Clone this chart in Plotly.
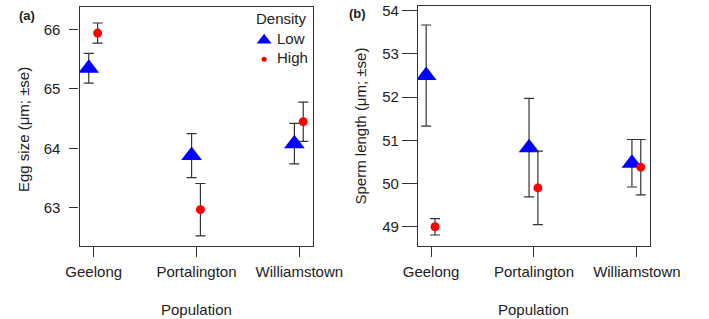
import plotly.graph_objects as go

populations = ["Geelong", "Portalington", "Williamstown"]

egg_low = [65.35, 63.88, 64.08]
egg_low_se = [0.25, 0.37, 0.34]
egg_high = [65.94, 62.97, 64.45]
egg_high_se = [0.17, 0.44, 0.33]

sperm_low = [52.50, 50.83, 50.47]
sperm_low_se = [1.17, 1.14, 0.55]
sperm_high = [49.00, 49.90, 50.38]
sperm_high_se = [0.19, 0.85, 0.64]

density_levels = ["Low", "High"]

W, H = 709, 319
FONT = "Liberation Sans, Arial, sans-serif"
FS = 15
BLUE = "#0000FF"
RED = "#FF0000"
EBAR = "#333333"

pos = [1, 2, 3]
off_low, off_high = -0.048, 0.038

fig = go.Figure()


def add_panel(low, low_se, high, high_se, xa, ya):
    fig.add_trace(go.Scatter(
        x=[p + off_low for p in pos], y=low, mode="markers",
        marker=dict(symbol="triangle-up", size=18, color=BLUE),
        error_y=dict(type="data", array=low_se, color=EBAR, thickness=1.2, width=5),
        xaxis=xa, yaxis=ya, showlegend=False))
    fig.add_trace(go.Scatter(
        x=[p + off_high for p in pos], y=high, mode="markers",
        marker=dict(symbol="circle", size=9, color=RED),
        error_y=dict(type="data", array=high_se, color=EBAR, thickness=1.2, width=5),
        xaxis=xa, yaxis=ya, showlegend=False))


add_panel(egg_low, egg_low_se, egg_high, egg_high_se, "x", "y")
add_panel(sperm_low, sperm_low_se, sperm_high, sperm_high_se, "x2", "y2")

# legend keys (labels drawn as annotations for tighter R-like spacing)
fig.add_trace(go.Scatter(x=[None], y=[None], mode="markers", name=" ",
                         marker=dict(symbol="triangle-up", size=13, color=BLUE)))
fig.add_trace(go.Scatter(x=[None], y=[None], mode="markers", name=" ",
                         marker=dict(symbol="circle", size=5, color=RED)))

axis_common = dict(showline=True, mirror=True, linecolor="#333333", linewidth=1.2,
                   showgrid=False, zeroline=False, ticks="outside",
                   tickcolor="#333333", tickwidth=1.2, ticklabeloverflow="allow",
                   tickfont=dict(family=FONT, size=FS, color="#222222"))


def pa(text, x, y, xanchor="center", size=FS, angle=0):
    return dict(text=text, x=x / W, y=1 - y / H, xref="paper", yref="paper",
                xanchor=xanchor, yanchor="middle", showarrow=False,
                textangle=angle, font=dict(size=size))


fig.update_layout(
    width=W, height=H, margin=dict(l=0, r=0, t=0, b=0),
    paper_bgcolor="white", plot_bgcolor="white",
    font=dict(family=FONT, size=FS, color="#222222"),
    xaxis=dict(domain=[69 / W, 319 / W], range=[0.862, 3.136], ticklen=10,
               ticklabelstandoff=2,
               tickvals=pos, ticktext=populations, **axis_common),
    yaxis=dict(domain=[1 - 245 / H, 1 - 3 / H], range=[62.36, 66.38], ticklen=9,
               ticklabelstandoff=6,
               tickvals=[63, 64, 65, 66], **axis_common),
    xaxis2=dict(domain=[431 / W, 679 / W], range=[0.873, 3.127], ticklen=10,
                ticklabelstandoff=2,
                tickvals=pos, ticktext=populations, anchor="y2", **axis_common),
    yaxis2=dict(domain=[1 - 245.3 / H, 1 - 2 / H], range=[48.55, 54.11], ticklen=15,
                ticklabelstandoff=0,
                tickvals=[49, 50, 51, 52, 53, 54], anchor="x2", **axis_common),
    legend=dict(x=245 / W, y=1 - 22 / H, xanchor="left", yanchor="top",
                bgcolor="rgba(0,0,0,0)", font=dict(family=FONT, size=10),
                itemsizing="trace", itemwidth=30, tracegroupgap=0),
    annotations=[
        pa("<b>(a)</b>", 2, 12, "left", 13),
        pa("<b>(b)</b>", 355, 10, "left", 13),
        pa("Egg size (μm; ±se)", -2, 127, "left", FS, -90),
        pa("Sperm length (μm; ±se)", 369, 124, "center", FS, -90),
        pa("Population", 194, 309),
        pa("Population", 555, 309),
        pa("Density", 256, 15, "left"),
        pa(density_levels[0], 278, 35, "left"),
        pa(density_levels[1], 278, 54, "left"),
    ],
)

fig.write_html("out.html")
